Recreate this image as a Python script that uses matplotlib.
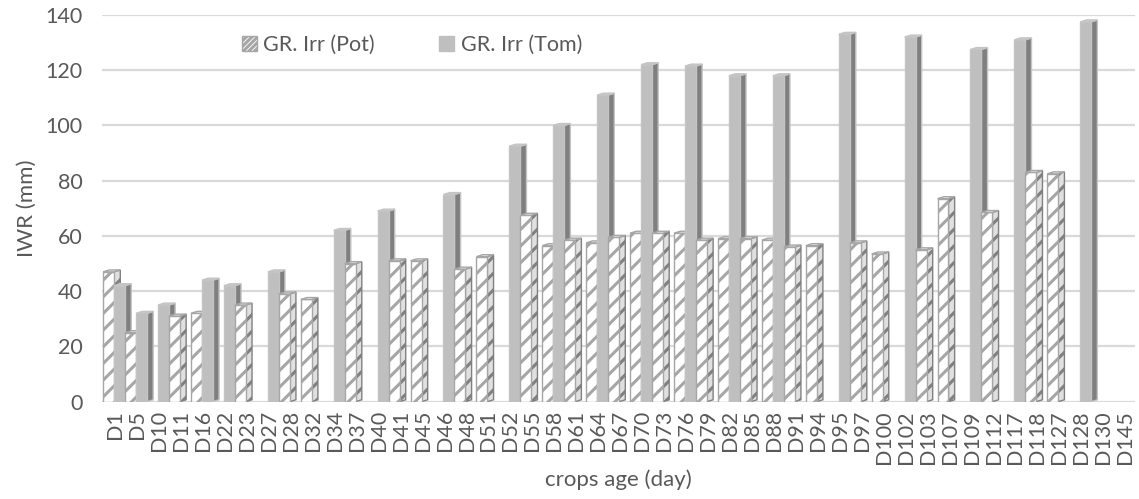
import numpy as np
import matplotlib.pyplot as plt
from matplotlib.patches import Patch

# crop age (day) and gross irrigation requirement, mm
days = ['D1', 'D5', 'D10', 'D11', 'D16', 'D22', 'D23', 'D27', 'D28', 'D32',
        'D34', 'D37', 'D40', 'D41', 'D45', 'D46', 'D48', 'D51', 'D52', 'D55',
        'D58', 'D61', 'D64', 'D67', 'D70', 'D73', 'D76', 'D79', 'D82', 'D85',
        'D88', 'D91', 'D94', 'D95', 'D97', 'D100', 'D102', 'D103', 'D107',
        'D109', 'D112', 'D117', 'D118', 'D127', 'D128', 'D130', 'D145']
gr_pot = [47, 25, 0, 31, 32, 0, 35, 0, 39, 37,
          0, 50, 0, 51, 51, 0, 48, 52.5, 0, 67.5,
          56.5, 58.5, 57.5, 59.5, 61, 61, 61, 58.5, 59, 59,
          58.5, 56, 56.5, 0, 57.5, 53.5, 0, 55, 73.5,
          0, 68.5, 0, 83, 82.5, 0, 0, 0]
gr_tom = [42, 32, 35, 0, 44, 42, 0, 47, 0, 0,
          62, 0, 69, 0, 0, 75, 0, 0, 92.5, 0,
          100, 0, 111, 0, 122, 0, 121.5, 0, 118, 0,
          118, 0, 0, 133, 0, 0, 132, 0, 0,
          127.5, 0, 131, 0, 0, 137.5, 0, 0]

plt.rcParams['font.family'] = ['Lato', 'DejaVu Sans']
plt.rcParams['hatch.linewidth'] = 2.2
txt = '#595959'

fig = plt.figure(figsize=(11.39, 4.99), dpi=100)
ax = fig.add_axes([0.0896, 0.195, 0.907, 0.775])

x = np.arange(len(days))
fw = 0.5     # front face width
sw = 0.28    # side face width
dy = 0.7     # depth rise of side/top faces


def bar3d(xl, h, front, side, top, edge, z, hatch=None, side_edge=None):
    ax.bar(xl, h, width=fw, align='edge', facecolor=front, edgecolor=edge,
           hatch=hatch, linewidth=1.0, zorder=z + 1)
    xr = xl + fw
    ax.fill([xr, xr + sw, xr + sw, xr], [0, dy, h + dy, h],
            facecolor=side, edgecolor=side_edge or edge, hatch=hatch,
            linewidth=1.0, zorder=z)
    ax.fill([xl, xl + sw, xr + sw, xr], [h, h + dy, h + dy, h],
            facecolor=top, edgecolor=edge, linewidth=1.0, zorder=z + 2)


for i in x:
    base = 3 + 6 * i
    if gr_pot[i] > 0:
        bar3d(i - 0.55, gr_pot[i], 'white', '#e0e0e0', '#f2f2f2', '#a6a6a6',
              base, hatch='//', side_edge='#808080')
    if gr_tom[i] > 0:
        bar3d(i - 0.05, gr_tom[i], '#bfbfbf', '#7f7f7f', '#c9c9c9', '#c4c4c4',
              base + 3)

ax.set_xlim(-0.6, 46.45)
ax.set_ylim(0, 140)
ax.set_yticks(np.arange(0, 141, 20))
ax.set_xticks(x)
ax.set_xticklabels(days, rotation=90)
ax.grid(axis='y', color='#d9d9d9', linewidth=1.6, zorder=0)
ax.set_axisbelow(True)
for s in ax.spines.values():
    s.set_visible(False)
ax.tick_params(length=0, labelsize=15.5, colors=txt)
ax.tick_params(axis='x', pad=6)
ax.tick_params(axis='y', pad=14)

ax.set_ylabel('IWR (mm)', fontsize=16, color=txt, labelpad=6)
ax.set_xlabel('crops age (day)', fontsize=16, color=txt, labelpad=4)

handles = [Patch(facecolor='white', edgecolor='#a6a6a6', hatch='//////'),
           Patch(facecolor='#bfbfbf', edgecolor='#bfbfbf')]
ax.legend(handles, ['GR. Irr (Pot)', 'GR. Irr (Tom)'], ncol=2,
          loc='center', bbox_to_anchor=(0.30, 0.922), frameon=False,
          fontsize=15.5, labelcolor=txt, handlelength=0.7, handleheight=0.7,
          handletextpad=0.3, columnspacing=3.0)

fig.savefig('out.png', dpi=100)
